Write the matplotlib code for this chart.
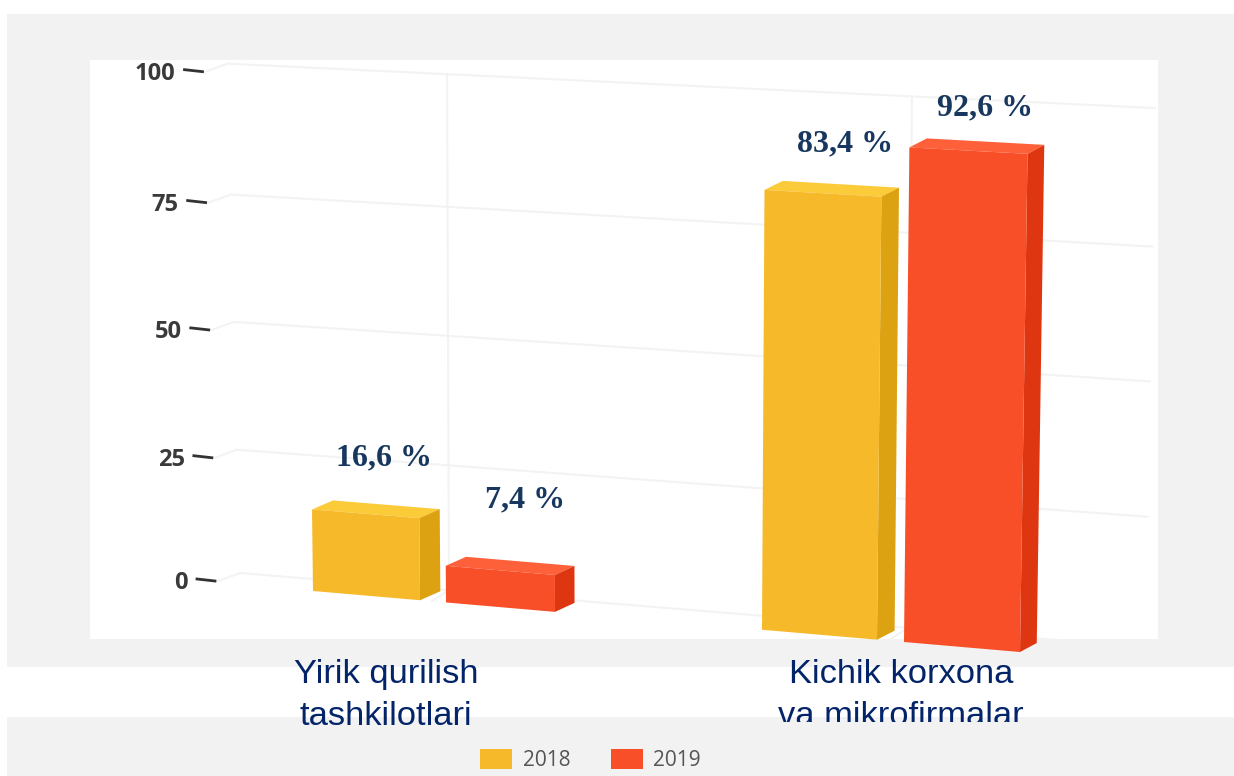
import numpy as np
import matplotlib
matplotlib.use("Agg")
import matplotlib.pyplot as plt
from matplotlib.patches import Polygon, Rectangle, Patch

categories = ["Yirik qurilish\ntashkilotlari", "Kichik korxona\nva mikrofirmalar"]
years = ["2018", "2019"]
values_2018 = [16.6, 83.4]
values_2019 = [7.4, 92.6]
labels_2018 = ["16,6 %", "83,4 %"]
labels_2019 = ["7,4 %", "92,6 %"]
y_ticks = [0, 25, 50, 75, 100]

W, H = 1234, 776
GRAY = "#f2f2f2"
GRID = "#f3f3f3"
NAVY = "#17375e"
CAT_COLOR = "#04246a"
YELLOW = {"front": "#f6b929", "top": "#fccb3a", "side": "#dca212"}
RED = {"front": "#f84f28", "top": "#fe6039", "side": "#de3610"}

# layout of the bars on the skewed floor (left edge and width, per category)
LEFT_2018, WIDTH_2018 = [313, 762], [107, 115]
LEFT_2019, WIDTH_2019 = [446, 904], [109, 116]
LABEL_POS_2018 = [(384, 458), (845, 143.5)]
LABEL_POS_2019 = [(525, 500), (985, 107.5)]
CAT_X = [386, 901]


def scale(x):
    # pixels per percent, grows a little to the right (perspective)
    return 5.09 + 0.00033 * (x - 230)


def wall(x, v):
    lean = np.interp(x, [230, 447, 912, 1150], [-0.13, -0.02, 0.04, 0.10])
    # the back wall is not quite linear in height
    h = np.interp(v, y_ticks, [0, 24.2, 49.3, 74.3, 100])
    return x + lean * v, 573 + 0.082 * (x - 240) - scale(x) * h


def front(x, v):
    lean = -0.06 + 0.0002 * (x - 313)
    # same for the front plane of the bars
    h = np.interp(v, [0, 20, 80, 100], [0, 19.2, 80, 100.8])
    return x + lean * v, 591 + 0.0863 * (x - 313) - scale(x) * h


def back(x, v):
    px, py = front(x, v)
    return px + 21 - 0.006 * (x - 312), py - 9


def draw_bar(ax, left, width, value, colors):
    right = left + width
    ax.add_patch(Polygon([front(left, value), front(right, value), back(right, value), back(left, value)],
                         color=colors["top"], lw=0, zorder=3))
    ax.add_patch(Polygon([front(right, 0), front(right, value), back(right, value), back(right, 0)],
                         color=colors["side"], lw=0, zorder=3))
    ax.add_patch(Polygon([front(left, 0), front(right, 0), front(right, value), front(left, value)],
                         color=colors["front"], lw=0, zorder=4))


fig = plt.figure(figsize=(W / 100, H / 100), dpi=100)
ax = fig.add_axes([0, 0, 1, 1])
ax.set_xlim(0, W)
ax.set_ylim(H, 0)
ax.axis("off")

# backgrounds
ax.add_patch(Rectangle((7, 14), W - 7, 653, color=GRAY, lw=0, zorder=0))
ax.add_patch(Rectangle((7, 717), W - 7, 59, color=GRAY, lw=0, zorder=0))
ax.add_patch(Rectangle((90, 60), 1068, 579, color="white", lw=0, zorder=1))

# grid and ticks
for v in y_ticks:
    cx, cy = wall(240, v)
    ex, ey = wall(1145, v)
    ax.plot([cx - 22, cx, ex], [cy + 8, cy, ey], color=GRID, lw=1.5, zorder=2)
    ax.plot([cx - 43, cx - 25], [cy + 6, cy + 8], color="#333333", lw=2, zorder=2)
    ax.text(cx - 52, cy + 10, str(v), ha="right", va="center", fontsize=17,
            family="Open Sans", weight="bold", color="#3a3a3a", zorder=2)

for x in [449, 908]:
    x0, y0 = wall(x, 0)
    x1, y1 = wall(x, 100)
    ax.plot([x0 - 17, x0, x1], [y0 + 11, y0, y1], color=GRID, lw=1.5, zorder=2)

# bars
for i in range(len(categories)):
    draw_bar(ax, LEFT_2018[i], WIDTH_2018[i], values_2018[i], YELLOW)
    draw_bar(ax, LEFT_2019[i], WIDTH_2019[i], values_2019[i], RED)

# value labels
for texts, positions in [(labels_2018, LABEL_POS_2018), (labels_2019, LABEL_POS_2019)]:
    for s, (x, y) in zip(texts, positions):
        ax.text(x, y, s, ha="center", va="center", fontsize=23, family="Liberation Serif",
                weight="bold", color=NAVY, zorder=5)

# category labels, the second line of the right one is cut off by the gray band
clip = Rectangle((0, 0), W, 722, transform=ax.transData)
for name, x in zip(categories, CAT_X):
    first, second = name.split("\n")
    ax.text(x, 683, first, ha="center", va="baseline", fontsize=24.8,
            family="Liberation Sans", color=CAT_COLOR, zorder=5)
    t = ax.text(x, 725, second, ha="center", va="baseline", fontsize=24.8,
                family="Liberation Sans", color=CAT_COLOR, zorder=5)
    if x > 600:
        t.set_clip_on(True)
        t.set_clip_path(clip)

handles = [Patch(color=YELLOW["front"], lw=0), Patch(color=RED["front"], lw=0)]
leg = ax.legend(handles, years, loc="center left", bbox_to_anchor=(480 / W, 1 - 760 / H),
                ncol=2, frameon=False, borderpad=0, borderaxespad=0,
                handlelength=1.54, handleheight=1.06, handletextpad=0.5, columnspacing=1.95,
                prop={"family": "Open Sans", "size": 15})
for t in leg.get_texts():
    t.set_color("#555555")

fig.savefig("out.png", dpi=100)
